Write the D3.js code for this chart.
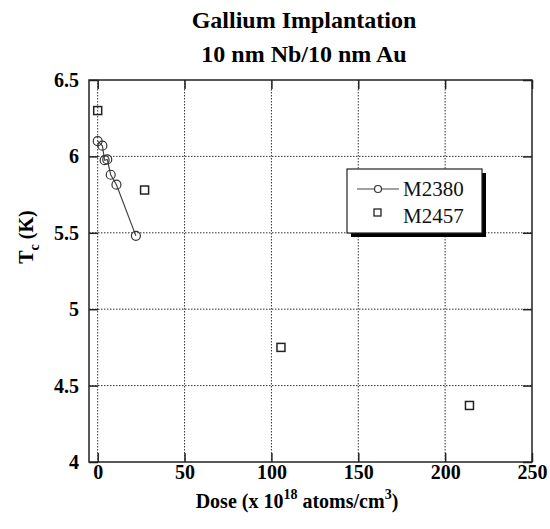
<!DOCTYPE html>
<html>
<head>
<meta charset="utf-8">
<script src="https://cdn.jsdelivr.net/npm/d3@7"></script>
<style>
  body { margin: 0; background: #fff; }
  svg text { font-family: "Liberation Serif", "Times New Roman", Times, "DejaVu Serif", serif !important; }
</style>
</head>
<body>
<script>
// data
var m2380Dose = [0, 2.7, 4, 5.5, 7.5, 10.8, 22];
var m2380Tc   = [6.10, 6.07, 5.975, 5.98, 5.88, 5.815, 5.48];
var m2457Dose = [0, 27, 105.5, 214];
var m2457Tc   = [6.30, 5.78, 4.75, 4.37];
var xTicks = [0, 50, 100, 150, 200, 250];
var yTicks = [4, 4.5, 5, 5.5, 6, 6.5];
var seriesNames = ["M2380", "M2457"];

var serif = "'Liberation Serif', 'Times New Roman', Times, 'DejaVu Serif', serif";

var svgWidth = 550, svgHeight = 529;
var margin = {top: 80, right: 18, bottom: 67, left: 89},
    width = svgWidth - margin.left - margin.right,
    height = svgHeight - margin.top - margin.bottom;

var svg = d3.select("body").append("svg")
    .attr("width", svgWidth)
    .attr("height", svgHeight)
    .attr("font-family", serif);

var g = svg.append("g")
    .attr("transform", "translate(" + margin.left + "," + margin.top + ")");

var x = d3.scaleLinear().domain([-5, 250]).range([0, width]),
    y = d3.scaleLinear().domain([4, 6.5]).range([height, 0]);

var ink = "#222";

// dotted grid
g.append("g").selectAll("line").data(xTicks.filter(function(d) { return d > -5 && d < 250; }))
  .enter().append("line")
    .attr("x1", function(d) { return x(d); }).attr("x2", function(d) { return x(d); })
    .attr("y1", 0).attr("y2", height)
    .attr("stroke", "#333").attr("stroke-width", 1).attr("stroke-dasharray", "1.5,1.5");
g.append("g").selectAll("line").data(yTicks.filter(function(d) { return d > 4 && d < 6.5; }))
  .enter().append("line")
    .attr("y1", function(d) { return y(d); }).attr("y2", function(d) { return y(d); })
    .attr("x1", 0).attr("x2", width)
    .attr("stroke", "#333").attr("stroke-width", 1).attr("stroke-dasharray", "1.5,1.5");

// axes with inward ticks on all four sides
function styleAxis(sel, labels) {
  sel.attr("font-family", serif);
  sel.select(".domain").remove();
  sel.selectAll(".tick line").attr("stroke", ink).attr("stroke-width", 1.5);
  if (!labels) sel.selectAll(".tick text").remove();
  else sel.selectAll(".tick text")
      .attr("fill", "#000").attr("font-size", 20).attr("font-weight", "bold");
}

g.append("g").attr("transform", "translate(0," + height + ")")
  .call(d3.axisBottom(x).tickValues(xTicks).tickSize(-9).tickPadding(3).tickFormat(d3.format("d")))
  .call(styleAxis, true);
g.append("g")
  .call(d3.axisTop(x).tickValues(xTicks).tickSize(-9))
  .call(styleAxis, false);
g.append("g")
  .call(d3.axisLeft(y).tickValues(yTicks).tickSize(-9).tickPadding(10).tickFormat(function(d) { return d3.format("")(d); }))
  .call(styleAxis, true);
g.append("g").attr("transform", "translate(" + width + ",0)")
  .call(d3.axisRight(y).tickValues(yTicks).tickSize(-9))
  .call(styleAxis, false);

// frame
g.append("rect")
    .attr("width", width).attr("height", height)
    .attr("fill", "none").attr("stroke", ink).attr("stroke-width", 1.5);

// M2380 line + circles
var pts1 = m2380Dose.map(function(d, i) { return [d, m2380Tc[i]]; });
var line = d3.line().x(function(d) { return x(d[0]); }).y(function(d) { return y(d[1]); });
g.append("path").datum(pts1)
    .attr("fill", "none").attr("stroke", "#444").attr("stroke-width", 1.2)
    .attr("d", line);
g.selectAll(".c1").data(pts1).enter().append("circle")
    .attr("cx", function(d) { return x(d[0]); })
    .attr("cy", function(d) { return y(d[1]); })
    .attr("r", 4.5)
    .attr("fill", "none").attr("stroke", "#333").attr("stroke-width", 1.2);

// M2457 squares
var pts2 = m2457Dose.map(function(d, i) { return [d, m2457Tc[i]]; });
g.selectAll(".s2").data(pts2).enter().append("rect")
    .attr("x", function(d) { return x(d[0]) - 4; })
    .attr("y", function(d) { return y(d[1]) - 4; })
    .attr("width", 8).attr("height", 8)
    .attr("fill", "none").attr("stroke", ink).attr("stroke-width", 1.5);

// legend with drop shadow
var lg = svg.append("g").attr("transform", "translate(347,169)");
lg.append("rect").attr("x", 4).attr("y", 4).attr("width", 135).attr("height", 64).attr("fill", "#000");
lg.append("rect").attr("width", 135).attr("height", 64)
    .attr("fill", "#fff").attr("stroke", ink).attr("stroke-width", 1.2);
lg.append("line").attr("x1", 10).attr("x2", 52).attr("y1", 20).attr("y2", 20)
    .attr("stroke", "#444").attr("stroke-width", 1.2);
lg.append("circle").attr("cx", 31).attr("cy", 20).attr("r", 3.5)
    .attr("fill", "#fff").attr("stroke", "#333").attr("stroke-width", 1.2);
lg.append("rect").attr("x", 27).attr("y", 40).attr("width", 7).attr("height", 7)
    .attr("fill", "none").attr("stroke", ink).attr("stroke-width", 1.3);
lg.selectAll(".lt").data(seriesNames).enter().append("text")
    .attr("x", 56).attr("y", function(d, i) { return 27 + i * 27; })
    .attr("font-size", 21).attr("fill", "#111")
    .text(function(d) { return d; });

// title
var title = svg.append("text").attr("text-anchor", "middle")
    .attr("font-size", 24).attr("font-weight", "bold");
title.append("tspan").attr("x", 304).attr("y", 28).text("Gallium Implantation");
title.append("tspan").attr("x", 304).attr("y", 62).text("10 nm Nb/10 nm Au");

// x label
var xl = svg.append("text").attr("x", 297).attr("y", 508).attr("text-anchor", "middle")
    .attr("font-size", 20).attr("font-weight", "bold");
xl.append("tspan").text("Dose (x 10");
xl.append("tspan").attr("font-size", 14).attr("dy", -9).text("18");
xl.append("tspan").attr("dy", 9).text(" atoms/cm");
xl.append("tspan").attr("font-size", 14).attr("dy", -9).text("3");
xl.append("tspan").attr("dy", 9).text(")");

// y label
var yl = svg.append("text").attr("transform", "translate(33,237) rotate(-90)")
    .attr("text-anchor", "middle").attr("font-size", 20).attr("font-weight", "bold");
yl.append("tspan").text("T");
yl.append("tspan").attr("font-size", 14).attr("dy", 6).text("c");
yl.append("tspan").attr("dy", -6).text(" (K)");
</script>
</body>
</html>
